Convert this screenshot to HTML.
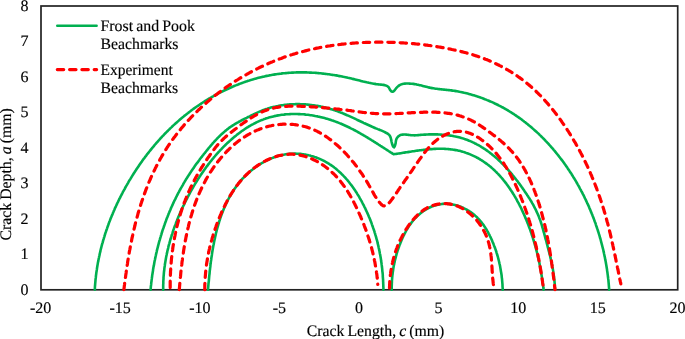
<!DOCTYPE html>
<html><head><meta charset="utf-8"><style>
html,body{margin:0;padding:0;background:#fff;}
body{width:685px;height:339px;overflow:hidden;}
svg{display:block;will-change:transform;}
text{font-family:"Liberation Serif",serif;font-size:16px;fill:#000;word-spacing:-0.9px;text-rendering:geometricPrecision;stroke:#000;stroke-width:0.15px;}
</style></head><body>
<svg width="685" height="339" viewBox="0 0 685 339">
<rect x="0" y="0" width="685" height="339" fill="#fff"/>
<rect x="41" y="6" width="636.7" height="283.8" fill="none" stroke="#222" stroke-width="1.7"/>
<path d="M94.8 289.7L94.9 288.5L94.9 287.3L95.0 286.1L95.1 284.9L95.2 283.7L95.3 282.5L95.4 281.3L95.5 280.1L95.6 278.9L95.8 277.7L95.9 276.5L96.0 275.3L96.2 274.1L96.3 272.9L96.5 271.7L96.7 270.6L96.9 269.4L97.0 268.2L97.2 267.0L97.4 265.8L97.6 264.6L97.8 263.4L98.0 262.2L98.3 261.1L98.5 259.9L98.7 258.7L99.0 257.5L99.2 256.4L99.5 255.2L99.7 254.0L100.0 252.8L100.3 251.7L100.5 250.5L100.8 249.3L101.1 248.2L101.4 247.0L101.7 245.8L102.0 244.7L102.3 243.5L102.7 242.3L103.0 241.2L103.3 240.0L103.7 238.9L104.0 237.7L104.4 236.6L104.7 235.4L105.1 234.3L105.4 233.1L105.8 232.0L106.2 230.8L106.6 229.7L107.0 228.6L107.4 227.4L107.8 226.3L108.2 225.2L108.6 224.0L109.0 222.9L109.4 221.8L109.9 220.7L110.3 219.5L110.7 218.4L111.2 217.3L111.6 216.2L112.1 215.1L112.6 214.0L113.0 212.9L113.5 211.8L114.0 210.6L114.5 209.5L114.9 208.4L115.4 207.3L115.9 206.3L116.4 205.2L116.9 204.1L117.4 203.0L118.0 201.9L118.5 200.8L119.0 199.7L119.5 198.7L120.1 197.6L120.6 196.5L121.2 195.4L121.7 194.4L122.3 193.3L122.8 192.2L123.4 191.2L124.0 190.1L124.6 189.1L125.1 188.0L125.7 187.0L126.3 185.9L126.9 184.9L127.5 183.8L128.1 182.8L128.7 181.7L129.3 180.7L129.9 179.7L130.6 178.6L131.2 177.6L131.8 176.6L132.4 175.6L133.1 174.5L133.7 173.5L134.4 172.5L135.0 171.5L135.7 170.5L136.3 169.5L137.0 168.5L137.7 167.5L138.4 166.5L139.0 165.5L139.7 164.5L140.4 163.5L141.1 162.5L141.8 161.6L142.5 160.6L143.2 159.6L143.9 158.6L144.6 157.7L145.3 156.7L146.1 155.8L146.8 154.8L147.5 153.8L148.3 152.9L149.0 151.9L149.8 151.0L150.5 150.1L151.3 149.1L152.0 148.2L152.8 147.3L153.6 146.4L154.3 145.4L155.1 144.5L155.9 143.6L156.7 142.7L157.5 141.8L158.3 140.9L159.1 140.0L159.9 139.1L160.7 138.2L161.5 137.3L162.3 136.4L163.2 135.6L164.0 134.7L164.8 133.8L165.7 133.0L166.5 132.1L167.4 131.3L168.2 130.4L169.1 129.6L169.9 128.7L170.8 127.9L171.7 127.1L172.5 126.2L173.4 125.4L174.3 124.6L175.2 123.8L176.1 123.0L177.0 122.2L177.9 121.4L178.8 120.6L179.7 119.8L180.6 119.0L181.5 118.2L182.4 117.5L183.4 116.7L184.3 115.9L185.2 115.2L186.2 114.4L187.1 113.7L188.1 113.0L189.0 112.2L190.0 111.5L190.9 110.8L191.9 110.0L192.9 109.3L193.8 108.6L194.8 107.9L195.8 107.2L196.8 106.5L197.8 105.9L198.8 105.2L199.8 104.5L200.8 103.8L201.8 103.2L202.8 102.5L203.8 101.9L204.8 101.2L205.8 100.6L206.9 100.0L207.9 99.3L208.9 98.7L210.0 98.1L211.0 97.5L212.0 96.9L213.1 96.3L214.1 95.7L215.2 95.2L216.2 94.6L217.3 94.0L218.4 93.4L219.4 92.9L220.5 92.3L221.6 91.8L222.7 91.3L223.7 90.7L224.8 90.2L225.9 89.7L227.0 89.2L228.1 88.7L229.2 88.2L230.3 87.7L231.4 87.2L232.5 86.7L233.6 86.3L234.7 85.8L235.8 85.4L236.9 84.9L238.1 84.5L239.2 84.0L240.3 83.6L241.4 83.2L242.6 82.8L243.7 82.4L244.8 82.0L246.0 81.6L247.1 81.2L248.2 80.8L249.4 80.5L250.5 80.1L251.7 79.8L252.8 79.4L254.0 79.1L255.1 78.7L256.3 78.4L257.5 78.1L258.6 77.8L259.8 77.5L261.0 77.2L262.1 76.9L263.3 76.7L264.5 76.4L265.7 76.1L266.8 75.9L268.0 75.7L269.2 75.4L270.4 75.2L271.6 75.0L272.7 74.8L273.9 74.6L275.1 74.4L276.3 74.2L277.5 74.0L278.7 73.9L279.9 73.7L281.1 73.6L282.3 73.4L283.5 73.3L284.7 73.2L285.9 73.1L287.1 73.0L288.3 72.9L289.5 72.8L290.7 72.7L291.9 72.6L293.1 72.6L294.3 72.5L295.5 72.5L296.7 72.4L297.9 72.4L299.1 72.4L300.3 72.4L301.5 72.4L302.7 72.4L303.9 72.4L305.1 72.4L306.3 72.4L307.5 72.5L308.7 72.5L309.9 72.6L311.1 72.6L312.3 72.7L313.5 72.8L314.7 72.8L315.9 72.9L317.1 73.0L318.3 73.1L319.5 73.2L320.7 73.3L321.9 73.5L323.1 73.6L324.3 73.7L325.5 73.9L326.7 74.0L327.8 74.2L329.0 74.3L330.2 74.5L331.4 74.7L332.6 74.9L333.8 75.0L335.0 75.2L336.2 75.4L337.4 75.6L338.5 75.9L339.7 76.1L340.9 76.3L342.1 76.5L343.3 76.8L344.4 77.0L345.6 77.2L346.8 77.5L348.0 77.8L349.1 78.0L350.3 78.3L351.5 78.6L352.7 78.9L353.8 79.1L355.0 79.4L356.2 79.7L357.3 80.0L358.5 80.3L359.7 80.6L360.8 80.9L362.0 81.2L363.2 81.5L364.3 81.7L365.5 82.0L366.7 82.3L367.8 82.5L369.0 82.8L370.2 83.0L371.4 83.3L372.6 83.5L373.7 83.7L374.9 83.9L376.1 84.1L377.3 84.2L378.5 84.4L379.7 84.5L380.9 84.6L382.1 84.7L383.3 84.9L384.5 85.1L385.6 85.4L386.8 85.9L387.8 86.5L388.7 87.3L389.3 88.3L389.8 89.4L390.5 90.4L391.3 91.3L392.4 91.8L393.5 91.5L394.3 90.6L395.0 89.7L395.8 88.7L396.5 87.8L397.4 86.9L398.3 86.1L399.2 85.4L400.3 84.8L401.4 84.4L402.5 84.0L403.7 83.8L404.9 83.6L406.1 83.5L407.3 83.5L408.5 83.5L409.7 83.6L410.9 83.7L412.1 83.8L413.3 83.9L414.5 84.1L415.7 84.3L416.9 84.6L418.0 84.8L419.2 85.1L420.4 85.3L421.6 85.6L422.7 85.9L423.9 86.2L425.1 86.5L426.2 86.8L427.4 87.1L428.6 87.4L429.7 87.6L430.9 87.9L432.1 88.1L433.3 88.3L434.5 88.5L435.7 88.7L436.8 88.8L438.0 89.0L439.2 89.1L440.4 89.3L441.6 89.4L442.8 89.5L444.0 89.6L445.2 89.8L446.4 89.9L447.6 90.0L448.8 90.1L450.0 90.3L451.2 90.4L452.4 90.6L453.6 90.8L454.8 90.9L455.9 91.1L457.1 91.3L458.3 91.5L459.5 91.8L460.7 92.0L461.9 92.2L463.0 92.5L464.2 92.8L465.4 93.0L466.5 93.3L467.7 93.6L468.9 93.9L470.0 94.2L471.2 94.6L472.3 94.9L473.5 95.2L474.7 95.6L475.8 95.9L476.9 96.3L478.1 96.7L479.2 97.1L480.4 97.5L481.5 97.9L482.6 98.3L483.7 98.7L484.9 99.2L486.0 99.6L487.1 100.1L488.2 100.5L489.3 101.0L490.4 101.5L491.5 101.9L492.6 102.4L493.7 102.9L494.8 103.5L495.9 104.0L497.0 104.5L498.0 105.0L499.1 105.6L500.2 106.1L501.2 106.7L502.3 107.3L503.4 107.8L504.4 108.4L505.5 109.0L506.5 109.6L507.5 110.2L508.6 110.9L509.6 111.5L510.6 112.1L511.6 112.7L512.6 113.4L513.7 114.0L514.7 114.7L515.7 115.4L516.7 116.1L517.6 116.7L518.6 117.4L519.6 118.1L520.6 118.8L521.6 119.5L522.5 120.3L523.5 121.0L524.4 121.7L525.4 122.4L526.3 123.2L527.3 123.9L528.2 124.7L529.1 125.5L530.1 126.2L531.0 127.0L531.9 127.8L532.8 128.6L533.7 129.4L534.6 130.2L535.5 131.0L536.4 131.8L537.3 132.6L538.2 133.4L539.0 134.2L539.9 135.1L540.8 135.9L541.6 136.8L542.5 137.6L543.3 138.5L544.2 139.3L545.0 140.2L545.8 141.1L546.6 141.9L547.5 142.8L548.3 143.7L549.1 144.6L549.9 145.5L550.7 146.4L551.5 147.3L552.3 148.2L553.1 149.1L553.8 150.0L554.6 150.9L555.4 151.9L556.1 152.8L556.9 153.7L557.7 154.7L558.4 155.6L559.1 156.6L559.9 157.5L560.6 158.5L561.3 159.4L562.1 160.4L562.8 161.3L563.5 162.3L564.2 163.3L564.9 164.3L565.6 165.2L566.3 166.2L567.0 167.2L567.6 168.2L568.3 169.2L569.0 170.2L569.6 171.2L570.3 172.2L571.0 173.2L571.6 174.2L572.2 175.3L572.9 176.3L573.5 177.3L574.1 178.3L574.8 179.4L575.4 180.4L576.0 181.4L576.6 182.5L577.2 183.5L577.8 184.6L578.4 185.6L579.0 186.7L579.5 187.7L580.1 188.8L580.7 189.8L581.2 190.9L581.8 192.0L582.4 193.0L582.9 194.1L583.5 195.2L584.0 196.2L584.5 197.3L585.0 198.4L585.6 199.5L586.1 200.6L586.6 201.7L587.1 202.8L587.6 203.8L588.1 204.9L588.6 206.0L589.1 207.1L589.5 208.2L590.0 209.4L590.5 210.5L590.9 211.6L591.4 212.7L591.8 213.8L592.3 214.9L592.7 216.0L593.2 217.2L593.6 218.3L594.0 219.4L594.4 220.5L594.8 221.7L595.3 222.8L595.7 223.9L596.0 225.1L596.4 226.2L596.8 227.3L597.2 228.5L597.6 229.6L597.9 230.8L598.3 231.9L598.7 233.1L599.0 234.2L599.4 235.4L599.7 236.5L600.0 237.7L600.4 238.8L600.7 240.0L601.0 241.2L601.3 242.3L601.6 243.5L601.9 244.6L602.2 245.8L602.5 247.0L602.8 248.1L603.1 249.3L603.4 250.5L603.6 251.7L603.9 252.8L604.1 254.0L604.4 255.2L604.6 256.4L604.9 257.5L605.1 258.7L605.3 259.9L605.6 261.1L605.8 262.3L606.0 263.4L606.2 264.6L606.4 265.8L606.6 267.0L606.8 268.2L607.0 269.4L607.1 270.6L607.3 271.8L607.5 273.0L607.6 274.1L607.8 275.3L607.9 276.5L608.1 277.7L608.2 278.9L608.4 280.1L608.5 281.3L608.6 282.5L608.7 283.7L608.8 284.9L608.9 286.1L609.0 287.3L609.1 288.5L609.2 289.7" stroke="#00B050" stroke-width="2.6" fill="none" stroke-linecap="round" stroke-linejoin="round"/>
<path d="M150.6 289.7L150.7 288.5L150.8 287.3L150.9 286.1L151.1 284.9L151.2 283.7L151.3 282.5L151.5 281.3L151.6 280.1L151.8 278.9L151.9 277.7L152.1 276.6L152.2 275.4L152.4 274.2L152.6 273.0L152.8 271.8L153.0 270.6L153.1 269.4L153.3 268.2L153.5 267.0L153.8 265.9L154.0 264.7L154.2 263.5L154.4 262.3L154.6 261.1L154.9 260.0L155.1 258.8L155.4 257.6L155.6 256.4L155.9 255.2L156.1 254.1L156.4 252.9L156.7 251.7L156.9 250.6L157.2 249.4L157.5 248.2L157.8 247.1L158.1 245.9L158.4 244.7L158.7 243.6L159.0 242.4L159.3 241.2L159.7 240.1L160.0 238.9L160.3 237.8L160.7 236.6L161.0 235.5L161.4 234.3L161.7 233.2L162.1 232.0L162.4 230.9L162.8 229.7L163.2 228.6L163.6 227.5L164.0 226.3L164.4 225.2L164.8 224.0L165.2 222.9L165.6 221.8L166.0 220.7L166.4 219.5L166.8 218.4L167.3 217.3L167.7 216.2L168.2 215.0L168.6 213.9L169.1 212.8L169.5 211.7L170.0 210.6L170.5 209.5L170.9 208.4L171.4 207.3L171.9 206.2L172.4 205.1L172.9 204.0L173.4 202.9L173.9 201.8L174.4 200.7L175.0 199.6L175.5 198.6L176.0 197.5L176.6 196.4L177.1 195.3L177.6 194.3L178.2 193.2L178.8 192.1L179.3 191.1L179.9 190.0L180.5 189.0L181.1 187.9L181.7 186.9L182.3 185.8L182.9 184.8L183.5 183.7L184.1 182.7L184.7 181.7L185.3 180.6L185.9 179.6L186.6 178.6L187.2 177.6L187.9 176.6L188.5 175.5L189.2 174.5L189.8 173.5L190.5 172.5L191.1 171.5L191.8 170.5L192.5 169.5L193.2 168.5L193.9 167.6L194.5 166.6L195.2 165.6L195.9 164.6L196.6 163.6L197.4 162.7L198.1 161.7L198.8 160.7L199.5 159.8L200.2 158.8L201.0 157.8L201.7 156.9L202.4 155.9L203.2 155.0L203.9 154.0L204.7 153.1L205.4 152.2L206.2 151.2L206.9 150.3L207.7 149.4L208.4 148.4L209.2 147.5L210.0 146.6L210.8 145.7L211.5 144.8L212.3 143.9L213.1 142.9L213.9 142.1L214.7 141.2L215.5 140.3L216.4 139.4L217.2 138.5L218.0 137.7L218.9 136.8L219.7 136.0L220.6 135.1L221.5 134.3L222.4 133.5L223.3 132.7L224.2 131.9L225.1 131.1L226.0 130.4L226.9 129.6L227.9 128.9L228.9 128.1L229.8 127.4L230.8 126.7L231.8 126.1L232.8 125.4L233.8 124.8L234.8 124.1L235.9 123.5L236.9 122.9L238.0 122.3L239.0 121.7L240.1 121.2L241.1 120.6L242.2 120.0L243.3 119.5L244.3 118.9L245.4 118.4L246.5 117.9L247.6 117.3L248.7 116.8L249.7 116.3L250.8 115.7L251.9 115.2L253.0 114.7L254.0 114.1L255.1 113.6L256.2 113.1L257.3 112.6L258.4 112.1L259.5 111.6L260.6 111.1L261.7 110.7L262.8 110.2L264.0 109.8L265.1 109.4L266.2 109.0L267.4 108.7L268.5 108.3L269.7 107.9L270.8 107.6L272.0 107.3L273.2 107.0L274.3 106.7L275.5 106.5L276.7 106.2L277.9 106.0L279.0 105.7L280.2 105.5L281.4 105.3L282.6 105.2L283.8 105.0L285.0 104.8L286.2 104.7L287.4 104.6L288.6 104.5L289.8 104.4L291.0 104.3L292.2 104.2L293.4 104.2L294.6 104.2L295.8 104.1L297.0 104.1L298.2 104.1L299.4 104.1L300.6 104.2L301.8 104.2L303.0 104.3L304.2 104.3L305.4 104.4L306.6 104.5L307.8 104.6L309.0 104.7L310.2 104.9L311.4 105.0L312.6 105.2L313.8 105.3L314.9 105.5L316.1 105.7L317.3 105.9L318.5 106.1L319.7 106.3L320.9 106.6L322.0 106.8L323.2 107.1L324.4 107.4L325.6 107.6L326.7 107.9L327.9 108.3L329.0 108.6L330.2 108.9L331.3 109.2L332.5 109.6L333.6 110.0L334.8 110.3L335.9 110.7L337.1 111.1L338.2 111.5L339.3 112.0L340.4 112.4L341.6 112.8L342.7 113.3L343.8 113.7L344.9 114.2L346.0 114.7L347.1 115.2L348.2 115.6L349.3 116.1L350.4 116.6L351.5 117.1L352.6 117.6L353.7 118.1L354.8 118.6L355.9 119.2L356.9 119.7L358.0 120.2L359.1 120.7L360.2 121.2L361.3 121.7L362.4 122.2L363.5 122.8L364.5 123.3L365.6 123.8L366.7 124.3L367.8 124.8L368.9 125.3L370.0 125.8L371.1 126.3L372.2 126.8L373.3 127.2L374.4 127.7L375.5 128.2L376.6 128.6L377.8 129.1L378.9 129.5L380.0 130.0L381.1 130.4L382.2 130.9L383.3 131.4L384.4 131.9L385.5 132.5L386.5 133.0L387.6 133.6L388.5 134.3L389.4 135.2L390.1 136.2L390.5 137.3L390.9 138.4L391.1 139.6L391.4 140.8L391.6 142.0L391.9 143.1L392.2 144.3L392.6 145.4L393.1 146.5L394.0 147.3L394.7 146.4L395.1 145.3L395.4 144.1L395.7 142.9L395.8 141.7L396.0 140.5L396.3 139.4L396.8 138.3L397.5 137.3L398.3 136.4L399.3 135.7L400.3 135.1L401.5 134.8L402.7 134.6L403.9 134.5L405.1 134.5L406.3 134.6L407.5 134.7L408.7 134.9L409.8 135.0L411.0 135.2L412.2 135.3L413.4 135.3L414.6 135.4L415.8 135.3L417.0 135.2L418.2 135.1L419.4 135.0L420.6 134.9L421.8 134.8L423.0 134.7L424.2 134.6L425.4 134.6L426.6 134.5L427.8 134.5L429.0 134.4L430.2 134.4L431.4 134.4L432.6 134.4L433.8 134.4L435.0 134.4L436.2 134.4L437.5 134.4L438.7 134.5L439.9 134.5L441.1 134.6L442.3 134.7L443.5 134.8L444.7 134.9L445.8 135.0L447.0 135.1L448.2 135.3L449.4 135.5L450.6 135.6L451.8 135.8L453.0 136.0L454.2 136.3L455.4 136.5L456.5 136.7L457.7 137.0L458.9 137.3L460.0 137.6L461.2 137.9L462.3 138.3L463.5 138.6L464.6 139.0L465.8 139.4L466.9 139.8L468.0 140.2L469.1 140.7L470.2 141.1L471.4 141.6L472.4 142.1L473.5 142.6L474.6 143.2L475.7 143.7L476.8 144.3L477.8 144.8L478.9 145.4L479.9 146.0L480.9 146.6L482.0 147.3L483.0 147.9L484.0 148.6L485.0 149.2L486.0 149.9L487.0 150.6L487.9 151.3L488.9 152.0L489.9 152.7L490.8 153.5L491.8 154.2L492.7 155.0L493.6 155.7L494.6 156.5L495.5 157.3L496.4 158.1L497.3 158.9L498.2 159.7L499.0 160.5L499.9 161.3L500.8 162.2L501.6 163.0L502.5 163.9L503.3 164.7L504.2 165.6L505.0 166.5L505.8 167.3L506.6 168.2L507.4 169.1L508.3 170.0L509.0 170.9L509.8 171.8L510.6 172.7L511.4 173.6L512.2 174.6L512.9 175.5L513.7 176.4L514.4 177.4L515.2 178.3L515.9 179.2L516.7 180.2L517.4 181.1L518.1 182.1L518.9 183.1L519.6 184.0L520.3 185.0L521.0 186.0L521.7 187.0L522.4 187.9L523.1 188.9L523.8 189.9L524.4 190.9L525.1 191.9L525.8 192.9L526.5 193.9L527.1 194.9L527.8 195.9L528.4 196.9L529.1 197.9L529.7 198.9L530.3 200.0L531.0 201.0L531.6 202.0L532.2 203.1L532.8 204.1L533.4 205.2L533.9 206.2L534.5 207.3L535.0 208.4L535.6 209.4L536.1 210.5L536.6 211.6L537.1 212.7L537.6 213.8L538.1 214.9L538.6 216.0L539.0 217.1L539.4 218.2L539.9 219.4L540.3 220.5L540.7 221.6L541.0 222.8L541.4 223.9L541.8 225.1L542.1 226.2L542.4 227.4L542.8 228.5L543.1 229.7L543.4 230.9L543.7 232.0L544.1 233.2L544.4 234.3L544.7 235.5L545.0 236.7L545.3 237.8L545.6 239.0L546.0 240.1L546.3 241.3L546.6 242.5L546.9 243.6L547.2 244.8L547.5 245.9L547.8 247.1L548.1 248.3L548.4 249.4L548.7 250.6L549.0 251.8L549.3 252.9L549.6 254.1L549.9 255.3L550.2 256.4L550.4 257.6L550.7 258.8L551.0 260.0L551.2 261.1L551.5 262.3L551.7 263.5L552.0 264.7L552.2 265.8L552.4 267.0L552.7 268.2L552.9 269.4L553.1 270.6L553.3 271.8L553.4 272.9L553.6 274.1L553.8 275.3L553.9 276.5L554.1 277.7L554.2 278.9L554.4 280.1L554.5 281.3L554.6 282.5L554.7 283.7L554.8 284.9L554.8 286.1L554.9 287.3L555.0 288.5L555.0 289.7" stroke="#00B050" stroke-width="2.6" fill="none" stroke-linecap="round" stroke-linejoin="round"/>
<path d="M163.2 289.7L163.2 288.5L163.2 287.3L163.2 286.1L163.2 284.9L163.3 283.7L163.3 282.5L163.3 281.3L163.4 280.1L163.5 278.9L163.5 277.7L163.6 276.5L163.7 275.3L163.8 274.1L163.9 272.9L164.0 271.7L164.2 270.5L164.3 269.3L164.4 268.1L164.6 266.9L164.8 265.7L164.9 264.5L165.1 263.3L165.3 262.1L165.5 260.9L165.7 259.7L165.9 258.6L166.1 257.4L166.3 256.2L166.6 255.0L166.8 253.8L167.1 252.7L167.3 251.5L167.6 250.3L167.9 249.1L168.2 248.0L168.4 246.8L168.7 245.6L169.0 244.5L169.4 243.3L169.7 242.1L170.0 241.0L170.3 239.8L170.7 238.7L171.0 237.5L171.4 236.4L171.7 235.2L172.1 234.1L172.5 232.9L172.8 231.8L173.2 230.6L173.6 229.5L174.0 228.4L174.4 227.2L174.8 226.1L175.3 225.0L175.7 223.9L176.1 222.7L176.5 221.6L177.0 220.5L177.4 219.4L177.9 218.3L178.3 217.1L178.8 216.0L179.3 214.9L179.8 213.8L180.2 212.7L180.7 211.6L181.2 210.5L181.7 209.4L182.2 208.3L182.7 207.2L183.2 206.1L183.8 205.1L184.3 204.0L184.8 202.9L185.3 201.8L185.9 200.7L186.4 199.7L187.0 198.6L187.5 197.5L188.1 196.4L188.6 195.4L189.2 194.3L189.8 193.3L190.3 192.2L190.9 191.1L191.5 190.1L192.1 189.0L192.7 188.0L193.3 187.0L193.9 185.9L194.5 184.9L195.1 183.8L195.8 182.8L196.4 181.8L197.0 180.8L197.7 179.7L198.3 178.7L199.0 177.7L199.6 176.7L200.3 175.7L200.9 174.7L201.6 173.7L202.3 172.7L203.0 171.7L203.7 170.7L204.4 169.7L205.1 168.8L205.8 167.8L206.5 166.8L207.2 165.9L207.9 164.9L208.7 163.9L209.4 163.0L210.1 162.0L210.9 161.1L211.6 160.2L212.4 159.2L213.2 158.3L213.9 157.4L214.7 156.5L215.5 155.5L216.3 154.6L217.1 153.7L217.9 152.8L218.7 151.9L219.5 151.1L220.3 150.2L221.2 149.3L222.0 148.4L222.8 147.6L223.7 146.7L224.5 145.9L225.4 145.0L226.2 144.2L227.1 143.3L228.0 142.5L228.9 141.7L229.8 140.9L230.7 140.1L231.6 139.3L232.5 138.5L233.4 137.7L234.3 136.9L235.2 136.2L236.2 135.4L237.1 134.6L238.1 133.9L239.0 133.2L240.0 132.5L240.9 131.7L241.9 131.0L242.9 130.4L243.9 129.7L244.9 129.0L245.9 128.3L246.9 127.7L247.9 127.1L249.0 126.4L250.0 125.8L251.1 125.2L252.1 124.6L253.2 124.1L254.2 123.5L255.3 123.0L256.4 122.4L257.5 121.9L258.6 121.4L259.7 120.9L260.8 120.4L261.9 120.0L263.0 119.6L264.1 119.1L265.3 118.7L266.4 118.3L267.6 118.0L268.7 117.6L269.9 117.3L271.0 117.0L272.2 116.7L273.4 116.4L274.5 116.1L275.7 115.9L276.9 115.6L278.1 115.4L279.3 115.2L280.5 115.0L281.6 114.8L282.8 114.7L284.0 114.6L285.2 114.4L286.4 114.3L287.6 114.2L288.8 114.2L290.0 114.1L291.2 114.0L292.4 114.0L293.6 114.0L294.9 114.0L296.1 114.0L297.3 114.0L298.5 114.1L299.7 114.1L300.9 114.2L302.1 114.3L303.3 114.3L304.5 114.4L305.7 114.6L306.9 114.7L308.1 114.8L309.3 115.0L310.4 115.2L311.6 115.3L312.8 115.5L314.0 115.7L315.2 116.0L316.4 116.2L317.6 116.4L318.7 116.7L319.9 116.9L321.1 117.2L322.3 117.5L323.4 117.8L324.6 118.1L325.7 118.4L326.9 118.7L328.1 119.1L329.2 119.4L330.4 119.8L331.5 120.2L332.6 120.6L333.8 121.0L334.9 121.4L336.0 121.8L337.2 122.2L338.3 122.6L339.4 123.1L340.5 123.5L341.6 124.0L342.7 124.5L343.8 125.0L344.9 125.5L346.0 126.0L347.1 126.5L348.2 127.0L349.3 127.5L350.4 128.1L351.4 128.6L352.5 129.1L353.6 129.7L354.6 130.3L355.7 130.8L356.8 131.4L357.8 132.0L358.9 132.6L359.9 133.2L361.0 133.8L362.0 134.4L363.1 135.0L364.1 135.6L365.1 136.2L366.2 136.8L367.2 137.4L368.2 138.1L369.2 138.7L370.3 139.3L371.3 140.0L372.3 140.6L373.3 141.2L374.3 141.9L375.4 142.5L376.4 143.2L377.4 143.8L378.4 144.5L379.4 145.1L380.4 145.8L381.4 146.4L382.5 147.1L383.5 147.7L384.5 148.4L385.5 149.0L386.5 149.7L387.5 150.3L388.5 151.0L389.5 151.6L390.6 152.3L391.6 152.9L392.6 153.6L393.6 154.2L394.8 154.0L396.0 153.9L397.2 153.7L398.4 153.5L399.6 153.4L400.8 153.2L402.0 153.0L403.1 152.8L404.3 152.6L405.5 152.4L406.7 152.3L407.9 152.1L409.1 151.9L410.3 151.7L411.5 151.5L412.7 151.3L413.9 151.2L415.0 151.0L416.2 150.8L417.4 150.6L418.6 150.5L419.8 150.3L421.0 150.2L422.2 150.0L423.4 149.9L424.6 149.7L425.8 149.6L427.0 149.5L428.2 149.4L429.4 149.3L430.6 149.2L431.8 149.1L433.0 149.0L434.2 148.9L435.4 148.9L436.6 148.8L437.8 148.8L439.0 148.8L440.2 148.8L441.4 148.8L442.6 148.8L443.8 148.8L445.0 148.9L446.2 149.0L447.4 149.0L448.6 149.1L449.8 149.2L451.0 149.4L452.2 149.5L453.4 149.7L454.6 149.9L455.8 150.1L457.0 150.3L458.1 150.6L459.3 150.8L460.5 151.1L461.6 151.4L462.8 151.8L464.0 152.1L465.1 152.5L466.2 152.9L467.4 153.3L468.5 153.7L469.6 154.1L470.7 154.6L471.8 155.1L472.9 155.6L474.0 156.1L475.1 156.6L476.2 157.2L477.2 157.8L478.3 158.3L479.3 158.9L480.4 159.6L481.4 160.2L482.4 160.8L483.4 161.5L484.4 162.2L485.4 162.9L486.4 163.6L487.3 164.3L488.3 165.0L489.2 165.8L490.2 166.5L491.1 167.3L492.0 168.1L492.9 168.9L493.8 169.7L494.7 170.5L495.5 171.4L496.4 172.2L497.2 173.1L498.1 173.9L498.9 174.8L499.7 175.7L500.5 176.6L501.3 177.5L502.1 178.4L502.9 179.3L503.6 180.3L504.4 181.2L505.1 182.1L505.9 183.1L506.6 184.1L507.3 185.0L508.0 186.0L508.7 187.0L509.4 188.0L510.1 189.0L510.7 190.0L511.4 191.0L512.1 192.0L512.7 193.0L513.3 194.0L514.0 195.0L514.6 196.1L515.2 197.1L515.8 198.2L516.4 199.2L517.0 200.3L517.5 201.3L518.1 202.4L518.7 203.4L519.2 204.5L519.8 205.6L520.3 206.7L520.9 207.7L521.4 208.8L521.9 209.9L522.4 211.0L522.9 212.1L523.4 213.2L523.9 214.3L524.4 215.4L524.9 216.5L525.3 217.6L525.8 218.7L526.3 219.8L526.7 220.9L527.2 222.0L527.6 223.2L528.1 224.3L528.5 225.4L528.9 226.5L529.3 227.7L529.8 228.8L530.2 229.9L530.6 231.1L531.0 232.2L531.4 233.3L531.7 234.5L532.1 235.6L532.5 236.8L532.9 237.9L533.2 239.1L533.6 240.2L533.9 241.4L534.3 242.5L534.6 243.7L534.9 244.8L535.3 246.0L535.6 247.2L535.9 248.3L536.2 249.5L536.5 250.6L536.8 251.8L537.1 253.0L537.4 254.1L537.7 255.3L537.9 256.5L538.2 257.7L538.5 258.8L538.7 260.0L539.0 261.2L539.2 262.4L539.5 263.5L539.7 264.7L539.9 265.9L540.2 267.1L540.4 268.3L540.6 269.5L540.8 270.6L541.0 271.8L541.2 273.0L541.4 274.2L541.6 275.4L541.8 276.6L542.0 277.8L542.2 279.0L542.3 280.2L542.5 281.3L542.7 282.5L542.8 283.7L543.0 284.9L543.2 286.1L543.3 287.3L543.5 288.5L543.6 289.7" stroke="#00B050" stroke-width="2.6" fill="none" stroke-linecap="round" stroke-linejoin="round"/>
<path d="M208.0 289.7L208.1 288.5L208.2 287.3L208.3 286.1L208.4 284.9L208.5 283.7L208.6 282.5L208.8 281.3L208.9 280.1L209.0 278.9L209.1 277.7L209.2 276.5L209.3 275.3L209.5 274.1L209.6 272.9L209.7 271.7L209.8 270.5L210.0 269.3L210.1 268.1L210.3 266.9L210.4 265.7L210.5 264.5L210.7 263.3L210.8 262.1L211.0 260.9L211.2 259.7L211.3 258.5L211.5 257.3L211.7 256.1L211.9 254.9L212.0 253.7L212.2 252.5L212.4 251.3L212.6 250.1L212.8 248.9L213.0 247.7L213.2 246.5L213.4 245.4L213.7 244.2L213.9 243.0L214.1 241.8L214.4 240.6L214.6 239.4L214.9 238.3L215.1 237.1L215.4 235.9L215.7 234.7L215.9 233.5L216.2 232.4L216.5 231.2L216.8 230.0L217.1 228.9L217.4 227.7L217.8 226.5L218.1 225.4L218.4 224.2L218.8 223.1L219.1 221.9L219.5 220.7L219.9 219.6L220.2 218.4L220.6 217.3L221.0 216.2L221.4 215.0L221.8 213.9L222.3 212.8L222.7 211.6L223.2 210.5L223.6 209.4L224.1 208.3L224.5 207.2L225.0 206.1L225.5 205.0L226.0 203.9L226.6 202.8L227.1 201.7L227.6 200.6L228.2 199.5L228.7 198.5L229.3 197.4L229.9 196.3L230.5 195.3L231.1 194.3L231.7 193.2L232.4 192.2L233.0 191.2L233.7 190.2L234.3 189.2L235.0 188.2L235.7 187.2L236.4 186.2L237.1 185.2L237.9 184.3L238.6 183.3L239.4 182.4L240.2 181.4L240.9 180.5L241.7 179.6L242.5 178.7L243.4 177.8L244.2 177.0L245.1 176.1L245.9 175.3L246.8 174.4L247.7 173.6L248.6 172.8L249.5 172.0L250.4 171.2L251.3 170.4L252.3 169.7L253.2 168.9L254.2 168.2L255.1 167.5L256.1 166.8L257.1 166.1L258.1 165.4L259.1 164.7L260.1 164.1L261.2 163.5L262.2 162.9L263.3 162.3L264.3 161.7L265.4 161.1L266.5 160.6L267.6 160.0L268.7 159.5L269.8 159.0L270.9 158.6L272.0 158.1L273.1 157.7L274.2 157.3L275.4 156.9L276.5 156.5L277.7 156.1L278.9 155.8L280.0 155.5L281.2 155.2L282.4 155.0L283.6 154.7L284.7 154.5L285.9 154.3L287.1 154.1L288.3 154.0L289.5 153.9L290.7 153.8L291.9 153.7L293.1 153.7L294.4 153.6L295.6 153.6L296.8 153.7L298.0 153.7L299.2 153.8L300.4 153.9L301.6 154.0L302.8 154.2L304.0 154.4L305.2 154.5L306.4 154.8L307.5 155.0L308.7 155.3L309.9 155.5L311.1 155.9L312.2 156.2L313.4 156.5L314.5 156.9L315.7 157.3L316.8 157.7L317.9 158.1L319.1 158.6L320.2 159.1L321.3 159.6L322.4 160.1L323.4 160.6L324.5 161.2L325.6 161.8L326.6 162.4L327.7 163.0L328.7 163.6L329.7 164.3L330.7 164.9L331.7 165.6L332.7 166.3L333.7 167.1L334.6 167.8L335.6 168.5L336.5 169.3L337.4 170.1L338.3 170.9L339.2 171.7L340.1 172.5L341.0 173.3L341.8 174.2L342.7 175.0L343.5 175.9L344.4 176.8L345.2 177.7L346.0 178.6L346.8 179.5L347.6 180.4L348.3 181.3L349.1 182.3L349.8 183.2L350.6 184.2L351.3 185.1L352.0 186.1L352.7 187.1L353.4 188.1L354.1 189.1L354.8 190.1L355.5 191.1L356.1 192.1L356.8 193.1L357.4 194.1L358.1 195.2L358.7 196.2L359.3 197.2L359.9 198.3L360.5 199.3L361.1 200.4L361.7 201.4L362.2 202.5L362.8 203.6L363.3 204.7L363.9 205.7L364.4 206.8L365.0 207.9L365.5 209.0L366.0 210.1L366.5 211.2L367.0 212.3L367.5 213.4L368.0 214.5L368.5 215.6L368.9 216.7L369.4 217.8L369.9 218.9L370.3 220.1L370.8 221.2L371.2 222.3L371.6 223.4L372.0 224.6L372.4 225.7L372.8 226.8L373.2 228.0L373.6 229.1L374.0 230.3L374.4 231.4L374.7 232.6L375.1 233.7L375.4 234.9L375.8 236.1L376.1 237.2L376.4 238.4L376.7 239.5L377.1 240.7L377.4 241.9L377.6 243.1L377.9 244.2L378.2 245.4L378.5 246.6L378.7 247.8L379.0 248.9L379.2 250.1L379.5 251.3L379.7 252.5L379.9 253.7L380.2 254.9L380.4 256.1L380.6 257.2L380.8 258.4L381.0 259.6L381.1 260.8L381.3 262.0L381.5 263.2L381.6 264.4L381.8 265.6L381.9 266.8L382.1 268.0L382.2 269.2L382.3 270.4L382.4 271.6L382.6 272.8L382.7 274.0L382.8 275.2L382.8 276.4L382.9 277.6L383.0 278.8L383.1 280.0L383.1 281.2L383.2 282.5L383.2 283.7L383.3 284.9L383.3 286.1L383.4 287.3L383.4 288.5L383.4 289.7" stroke="#00B050" stroke-width="2.6" fill="none" stroke-linecap="round" stroke-linejoin="round"/>
<path d="M391.7 289.7L391.7 288.5L391.7 287.3L391.7 286.1L391.8 284.9L391.8 283.7L391.9 282.4L391.9 281.2L392.0 280.0L392.1 278.8L392.2 277.6L392.3 276.4L392.4 275.2L392.6 274.0L392.7 272.8L392.9 271.6L393.1 270.4L393.2 269.2L393.4 268.0L393.6 266.8L393.8 265.7L394.1 264.5L394.3 263.3L394.6 262.1L394.8 260.9L395.1 259.7L395.4 258.6L395.7 257.4L396.0 256.2L396.3 255.1L396.6 253.9L397.0 252.7L397.3 251.6L397.7 250.4L398.1 249.3L398.5 248.1L398.9 247.0L399.3 245.9L399.7 244.7L400.2 243.6L400.6 242.5L401.1 241.4L401.5 240.2L402.0 239.1L402.5 238.0L403.0 236.9L403.5 235.8L404.1 234.8L404.6 233.7L405.2 232.6L405.8 231.5L406.3 230.5L406.9 229.4L407.6 228.4L408.2 227.4L408.8 226.4L409.5 225.3L410.2 224.4L410.9 223.4L411.6 222.4L412.4 221.5L413.1 220.5L413.9 219.6L414.7 218.7L415.6 217.8L416.4 217.0L417.3 216.1L418.2 215.3L419.1 214.5L420.0 213.7L420.9 213.0L421.9 212.2L422.9 211.5L423.9 210.8L424.9 210.2L425.9 209.5L427.0 208.9L428.0 208.3L429.1 207.8L430.2 207.3L431.3 206.8L432.4 206.3L433.6 205.9L434.7 205.5L435.9 205.2L437.0 204.9L438.2 204.6L439.4 204.4L440.6 204.2L441.8 204.0L443.0 203.9L444.2 203.8L445.4 203.8L446.6 203.8L447.8 203.9L449.0 204.0L450.2 204.1L451.4 204.3L452.6 204.5L453.8 204.7L455.0 205.0L456.1 205.3L457.3 205.6L458.5 206.0L459.6 206.4L460.7 206.8L461.9 207.3L463.0 207.7L464.1 208.3L465.1 208.8L466.2 209.4L467.3 210.0L468.3 210.6L469.3 211.2L470.3 211.9L471.3 212.6L472.3 213.3L473.2 214.0L474.2 214.8L475.1 215.6L476.0 216.4L476.9 217.2L477.7 218.1L478.6 219.0L479.4 219.9L480.2 220.8L480.9 221.7L481.7 222.6L482.4 223.6L483.2 224.6L483.9 225.6L484.5 226.6L485.2 227.6L485.8 228.6L486.5 229.6L487.1 230.7L487.7 231.7L488.3 232.8L488.8 233.8L489.4 234.9L489.9 236.0L490.5 237.1L491.0 238.2L491.5 239.3L492.0 240.4L492.4 241.5L492.9 242.6L493.4 243.7L493.8 244.9L494.2 246.0L494.7 247.1L495.1 248.3L495.5 249.4L495.9 250.5L496.3 251.7L496.6 252.8L497.0 254.0L497.3 255.2L497.7 256.3L498.0 257.5L498.3 258.6L498.6 259.8L498.9 261.0L499.2 262.2L499.4 263.3L499.7 264.5L500.0 265.7L500.2 266.9L500.4 268.1L500.6 269.3L500.8 270.5L501.0 271.7L501.2 272.8L501.4 274.0L501.6 275.2L501.7 276.4L501.8 277.6L502.0 278.8L502.1 280.0L502.2 281.3L502.3 282.5L502.4 283.7L502.5 284.9L502.5 286.1L502.6 287.3L502.7 288.5L502.7 289.7" stroke="#00B050" stroke-width="2.6" fill="none" stroke-linecap="round" stroke-linejoin="round"/>
<path d="M123.9 289.7L124.0 288.5L124.2 287.3L124.3 286.1L124.5 284.9L124.6 283.7L124.8 282.5L124.9 281.3L125.1 280.2L125.2 279.0L125.4 277.8L125.6 276.6L125.7 275.4L125.9 274.2L126.1 273.0L126.2 271.8L126.4 270.6L126.6 269.4L126.7 268.2L126.9 267.0L127.1 265.9L127.3 264.7L127.5 263.5L127.6 262.3L127.8 261.1L128.0 259.9L128.2 258.7L128.4 257.5L128.6 256.4L128.8 255.2L129.0 254.0L129.2 252.8L129.4 251.6L129.6 250.4L129.9 249.3L130.1 248.1L130.3 246.9L130.5 245.7L130.8 244.5L131.0 243.3L131.2 242.2L131.5 241.0L131.7 239.8L131.9 238.6L132.2 237.5L132.4 236.3L132.7 235.1L132.9 233.9L133.2 232.8L133.5 231.6L133.7 230.4L134.0 229.2L134.3 228.1L134.6 226.9L134.9 225.7L135.1 224.6L135.4 223.4L135.7 222.2L136.0 221.1L136.3 219.9L136.6 218.7L137.0 217.6L137.3 216.4L137.6 215.3L137.9 214.1L138.2 212.9L138.6 211.8L138.9 210.6L139.3 209.5L139.6 208.3L140.0 207.2L140.3 206.0L140.7 204.9L141.0 203.7L141.4 202.6L141.8 201.4L142.2 200.3L142.6 199.2L142.9 198.0L143.3 196.9L143.7 195.8L144.1 194.6L144.6 193.5L145.0 192.4L145.4 191.2L145.8 190.1L146.2 189.0L146.7 187.9L147.1 186.7L147.6 185.6L148.0 184.5L148.5 183.4L148.9 182.3L149.4 181.2L149.9 180.1L150.4 179.0L150.8 177.9L151.3 176.8L151.8 175.7L152.3 174.6L152.8 173.5L153.3 172.4L153.9 171.3L154.4 170.2L154.9 169.2L155.4 168.1L156.0 167.0L156.5 165.9L157.1 164.9L157.6 163.8L158.2 162.7L158.8 161.7L159.4 160.6L159.9 159.6L160.5 158.5L161.1 157.5L161.7 156.4L162.3 155.4L162.9 154.4L163.5 153.3L164.2 152.3L164.8 151.3L165.4 150.3L166.1 149.2L166.7 148.2L167.4 147.2L168.0 146.2L168.7 145.2L169.4 144.2L170.1 143.2L170.7 142.2L171.4 141.2L172.1 140.3L172.8 139.3L173.5 138.3L174.3 137.3L175.0 136.4L175.7 135.4L176.4 134.5L177.2 133.5L177.9 132.6L178.7 131.6L179.4 130.7L180.2 129.8L180.9 128.8L181.7 127.9L182.5 127.0L183.3 126.1L184.0 125.2L184.8 124.2L185.6 123.3L186.4 122.4L187.2 121.6L188.0 120.7L188.8 119.8L189.7 118.9L190.5 118.0L191.3 117.1L192.2 116.3L193.0 115.4L193.8 114.6L194.7 113.7L195.5 112.9L196.4 112.0L197.3 111.2L198.1 110.3L199.0 109.5L199.9 108.7L200.7 107.9L201.6 107.0L202.5 106.2L203.4 105.4L204.3 104.6L205.2 103.8L206.1 103.0L207.0 102.2L207.9 101.4L208.8 100.7L209.7 99.9L210.7 99.1L211.6 98.4L212.5 97.6L213.5 96.8L214.4 96.1L215.3 95.3L216.3 94.6L217.2 93.9L218.2 93.1L219.1 92.4L220.1 91.7L221.1 90.9L222.0 90.2L223.0 89.5L224.0 88.8L225.0 88.1L225.9 87.4L226.9 86.7L227.9 86.0L228.9 85.4L229.9 84.7L230.9 84.0L231.9 83.4L232.9 82.7L233.9 82.0L234.9 81.4L235.9 80.7L237.0 80.1L238.0 79.5L239.0 78.8L240.0 78.2L241.1 77.6L242.1 77.0L243.1 76.4L244.2 75.8L245.2 75.2L246.3 74.6L247.3 74.0L248.4 73.4L249.4 72.8L250.5 72.2L251.5 71.7L252.6 71.1L253.7 70.5L254.7 70.0L255.8 69.4L256.9 68.9L257.9 68.4L259.0 67.8L260.1 67.3L261.2 66.8L262.3 66.3L263.4 65.8L264.5 65.3L265.5 64.8L266.6 64.3L267.7 63.8L268.8 63.3L270.0 62.8L271.1 62.3L272.2 61.9L273.3 61.4L274.4 61.0L275.5 60.5L276.6 60.1L277.7 59.6L278.9 59.2L280.0 58.8L281.1 58.4L282.3 57.9L283.4 57.5L284.5 57.1L285.7 56.7L286.8 56.3L287.9 56.0L289.1 55.6L290.2 55.2L291.4 54.8L292.5 54.5L293.7 54.1L294.8 53.8L296.0 53.4L297.1 53.1L298.3 52.8L299.4 52.4L300.6 52.1L301.7 51.8L302.9 51.5L304.1 51.2L305.2 50.9L306.4 50.6L307.6 50.3L308.7 50.0L309.9 49.7L311.1 49.5L312.3 49.2L313.4 48.9L314.6 48.7L315.8 48.4L317.0 48.2L318.1 48.0L319.3 47.7L320.5 47.5L321.7 47.3L322.9 47.1L324.0 46.8L325.2 46.6L326.4 46.4L327.6 46.2L328.8 46.0L330.0 45.9L331.2 45.7L332.4 45.5L333.5 45.3L334.7 45.2L335.9 45.0L337.1 44.8L338.3 44.7L339.5 44.5L340.7 44.4L341.9 44.2L343.1 44.1L344.3 44.0L345.5 43.9L346.7 43.7L347.9 43.6L349.1 43.5L350.3 43.4L351.5 43.3L352.7 43.2L353.9 43.1L355.1 43.0L356.3 42.9L357.5 42.9L358.7 42.8L359.9 42.7L361.1 42.7L362.3 42.6L363.5 42.5L364.7 42.5L365.9 42.4L367.1 42.4L368.3 42.4L369.5 42.3L370.7 42.3L371.9 42.3L373.1 42.2L374.3 42.2L375.5 42.2L376.7 42.2L377.9 42.2L379.1 42.2L380.3 42.2L381.5 42.2L382.7 42.2L383.9 42.2L385.1 42.2L386.3 42.2L387.5 42.2L388.7 42.3L389.9 42.3L391.1 42.3L392.3 42.4L393.5 42.4L394.7 42.5L395.9 42.5L397.1 42.6L398.3 42.6L399.5 42.7L400.7 42.8L401.9 42.8L403.1 42.9L404.3 43.0L405.5 43.1L406.7 43.1L407.9 43.2L409.1 43.3L410.3 43.4L411.5 43.5L412.7 43.6L413.9 43.7L415.1 43.8L416.3 44.0L417.5 44.1L418.7 44.2L419.9 44.3L421.1 44.5L422.3 44.6L423.5 44.8L424.7 44.9L425.9 45.1L427.1 45.2L428.3 45.4L429.5 45.5L430.7 45.7L431.8 45.9L433.0 46.0L434.2 46.2L435.4 46.4L436.6 46.6L437.8 46.8L439.0 47.0L440.2 47.2L441.3 47.4L442.5 47.6L443.7 47.8L444.9 48.0L446.1 48.3L447.3 48.5L448.4 48.7L449.6 49.0L450.8 49.2L452.0 49.5L453.1 49.7L454.3 50.0L455.5 50.2L456.7 50.5L457.8 50.8L459.0 51.0L460.2 51.3L461.3 51.6L462.5 51.9L463.7 52.2L464.8 52.5L466.0 52.8L467.2 53.1L468.3 53.5L469.5 53.8L470.6 54.1L471.8 54.5L472.9 54.8L474.1 55.2L475.2 55.6L476.4 55.9L477.5 56.3L478.6 56.7L479.8 57.1L480.9 57.5L482.0 57.9L483.2 58.3L484.3 58.7L485.4 59.2L486.5 59.6L487.7 60.1L488.8 60.5L489.9 61.0L491.0 61.5L492.1 61.9L493.2 62.4L494.3 62.9L495.4 63.4L496.5 64.0L497.5 64.5L498.6 65.0L499.7 65.6L500.8 66.1L501.8 66.7L502.9 67.2L504.0 67.8L505.0 68.4L506.1 69.0L507.1 69.6L508.1 70.2L509.2 70.8L510.2 71.4L511.2 72.0L512.2 72.7L513.3 73.3L514.3 74.0L515.3 74.6L516.3 75.3L517.3 76.0L518.2 76.7L519.2 77.4L520.2 78.1L521.2 78.8L522.1 79.5L523.1 80.2L524.1 81.0L525.0 81.7L525.9 82.5L526.9 83.2L527.8 84.0L528.7 84.7L529.6 85.5L530.5 86.3L531.5 87.1L532.3 87.9L533.2 88.7L534.1 89.5L535.0 90.4L535.9 91.2L536.7 92.0L537.6 92.9L538.5 93.7L539.3 94.6L540.2 95.4L541.0 96.3L541.8 97.1L542.6 98.0L543.5 98.9L544.3 99.8L545.1 100.7L545.9 101.6L546.7 102.5L547.5 103.4L548.3 104.3L549.0 105.2L549.8 106.1L550.6 107.0L551.4 108.0L552.1 108.9L552.9 109.8L553.6 110.8L554.4 111.7L555.1 112.7L555.8 113.6L556.6 114.6L557.3 115.5L558.0 116.5L558.7 117.5L559.4 118.4L560.2 119.4L560.9 120.4L561.6 121.4L562.2 122.3L562.9 123.3L563.6 124.3L564.3 125.3L565.0 126.3L565.6 127.3L566.3 128.3L567.0 129.3L567.6 130.3L568.3 131.3L568.9 132.3L569.6 133.4L570.2 134.4L570.8 135.4L571.5 136.4L572.1 137.5L572.7 138.5L573.3 139.5L573.9 140.6L574.5 141.6L575.2 142.6L575.8 143.7L576.3 144.7L576.9 145.8L577.5 146.8L578.1 147.9L578.7 148.9L579.2 150.0L579.8 151.1L580.4 152.1L580.9 153.2L581.5 154.2L582.0 155.3L582.6 156.4L583.1 157.5L583.7 158.5L584.2 159.6L584.7 160.7L585.2 161.8L585.8 162.9L586.3 164.0L586.8 165.0L587.3 166.1L587.8 167.2L588.3 168.3L588.8 169.4L589.3 170.5L589.8 171.6L590.3 172.7L590.7 173.8L591.2 174.9L591.7 176.0L592.1 177.1L592.6 178.3L593.1 179.4L593.5 180.5L594.0 181.6L594.4 182.7L594.8 183.8L595.3 185.0L595.7 186.1L596.1 187.2L596.6 188.3L597.0 189.5L597.4 190.6L597.8 191.7L598.2 192.8L598.6 194.0L599.0 195.1L599.4 196.2L599.8 197.4L600.2 198.5L600.6 199.7L601.0 200.8L601.3 201.9L601.7 203.1L602.1 204.2L602.4 205.4L602.8 206.5L603.2 207.7L603.5 208.8L603.9 210.0L604.2 211.1L604.5 212.3L604.9 213.4L605.2 214.6L605.5 215.7L605.9 216.9L606.2 218.1L606.5 219.2L606.8 220.4L607.1 221.5L607.5 222.7L607.8 223.9L608.1 225.0L608.4 226.2L608.7 227.4L608.9 228.5L609.2 229.7L609.5 230.9L609.8 232.0L610.1 233.2L610.4 234.4L610.6 235.5L610.9 236.7L611.2 237.9L611.5 239.1L611.7 240.2L612.0 241.4L612.2 242.6L612.5 243.8L612.8 244.9L613.0 246.1L613.3 247.3L613.5 248.5L613.8 249.6L614.0 250.8L614.3 252.0L614.5 253.2L614.8 254.3L615.0 255.5L615.3 256.7L615.5 257.9L615.8 259.1L616.0 260.2L616.2 261.4L616.5 262.6L616.7 263.8L617.0 264.9L617.2 266.1L617.4 267.3L617.7 268.5L617.9 269.7L618.2 270.8L618.4 272.0L618.6 273.2L618.9 274.4L619.1 275.6L619.4 276.7L619.6 277.9L619.8 279.1L620.1 280.3L620.3 281.4L620.6 282.6L620.8 283.8" stroke="#FF0000" stroke-width="3.2" fill="none" stroke-linecap="round" stroke-linejoin="round" stroke-dasharray="6.4 5.9" stroke-dashoffset="0"/>
<path d="M170.2 287.6L170.2 286.4L170.2 285.2L170.2 284.0L170.2 282.8L170.2 281.6L170.2 280.4L170.3 279.2L170.3 278.0L170.3 276.8L170.4 275.6L170.4 274.4L170.5 273.2L170.5 271.9L170.6 270.7L170.7 269.5L170.7 268.3L170.8 267.1L170.9 265.9L171.0 264.7L171.1 263.5L171.2 262.3L171.3 261.1L171.4 259.9L171.5 258.7L171.6 257.5L171.8 256.3L171.9 255.1L172.0 253.9L172.2 252.8L172.3 251.6L172.5 250.4L172.7 249.2L172.8 248.0L173.0 246.8L173.2 245.6L173.4 244.4L173.6 243.2L173.8 242.0L174.0 240.8L174.2 239.7L174.4 238.5L174.6 237.3L174.9 236.1L175.1 234.9L175.3 233.7L175.6 232.6L175.8 231.4L176.1 230.2L176.4 229.0L176.6 227.9L176.9 226.7L177.2 225.5L177.5 224.4L177.8 223.2L178.1 222.0L178.4 220.9L178.7 219.7L179.1 218.5L179.4 217.4L179.7 216.2L180.1 215.1L180.4 213.9L180.8 212.8L181.2 211.6L181.5 210.5L181.9 209.3L182.3 208.2L182.7 207.1L183.1 205.9L183.5 204.8L183.9 203.7L184.3 202.5L184.8 201.4L185.2 200.3L185.6 199.2L186.1 198.0L186.5 196.9L187.0 195.8L187.5 194.7L187.9 193.6L188.4 192.5L188.9 191.4L189.4 190.3L189.9 189.2L190.4 188.1L190.9 187.0L191.5 185.9L192.0 184.8L192.5 183.8L193.1 182.7L193.6 181.6L194.2 180.6L194.7 179.5L195.3 178.4L195.9 177.4L196.5 176.3L197.1 175.3L197.6 174.2L198.2 173.2L198.9 172.1L199.5 171.1L200.1 170.1L200.7 169.0L201.3 168.0L202.0 167.0L202.6 166.0L203.3 164.9L203.9 163.9L204.6 162.9L205.2 161.9L205.9 160.9L206.6 159.9L207.2 158.9L207.9 157.9L208.6 156.9L209.3 156.0L210.0 155.0L210.7 154.0L211.4 153.0L212.1 152.0L212.8 151.1L213.6 150.1L214.3 149.1L215.0 148.2L215.7 147.2L216.5 146.3L217.3 145.4L218.0 144.4L218.8 143.5L219.7 142.7L220.5 141.8L221.3 140.9L222.2 140.1L223.1 139.3L223.9 138.4L224.8 137.6L225.7 136.8L226.6 136.0L227.6 135.2L228.5 134.5L229.4 133.7L230.4 133.0L231.3 132.2L232.2 131.5L233.2 130.7L234.1 130.0L235.1 129.2L236.1 128.5L237.0 127.8L238.0 127.1L238.9 126.3L239.9 125.6L240.9 124.9L241.8 124.2L242.8 123.5L243.8 122.8L244.8 122.1L245.8 121.4L246.8 120.7L247.7 120.0L248.8 119.3L249.8 118.7L250.8 118.0L251.8 117.4L252.8 116.8L253.9 116.2L254.9 115.5L255.9 115.0L257.0 114.4L258.1 113.8L259.1 113.3L260.2 112.7L261.3 112.2L262.4 111.7L263.5 111.3L264.6 110.8L265.8 110.4L266.9 110.0L268.0 109.6L269.2 109.2L270.3 108.9L271.5 108.5L272.7 108.3L273.8 108.0L275.0 107.7L276.2 107.5L277.4 107.3L278.6 107.1L279.8 106.9L281.0 106.8L282.2 106.7L283.4 106.5L284.6 106.4L285.8 106.4L287.0 106.3L288.2 106.2L289.4 106.2L290.6 106.2L291.8 106.1L293.0 106.1L294.2 106.1L295.4 106.1L296.6 106.1L297.8 106.2L299.0 106.2L300.2 106.2L301.4 106.3L302.6 106.3L303.8 106.4L305.0 106.4L306.2 106.5L307.4 106.6L308.6 106.6L309.8 106.7L311.0 106.8L312.2 106.9L313.4 106.9L314.6 107.0L315.8 107.1L317.0 107.2L318.2 107.3L319.4 107.4L320.6 107.5L321.8 107.6L323.0 107.7L324.2 107.8L325.4 107.9L326.6 108.0L327.8 108.1L329.0 108.2L330.2 108.3L331.4 108.4L332.6 108.6L333.8 108.7L335.0 108.8L336.2 109.0L337.4 109.1L338.6 109.2L339.8 109.4L341.0 109.5L342.2 109.6L343.4 109.8L344.6 109.9L345.8 110.1L347.0 110.2L348.2 110.4L349.4 110.5L350.6 110.7L351.8 110.9L353.0 111.0L354.2 111.2L355.3 111.4L356.5 111.5L357.7 111.7L358.9 111.8L360.1 112.0L361.3 112.2L362.5 112.3L363.7 112.5L364.9 112.6L366.1 112.7L367.3 112.9L368.5 113.0L369.7 113.1L370.9 113.2L372.1 113.3L373.3 113.4L374.5 113.5L375.7 113.6L376.9 113.6L378.1 113.7L379.3 113.7L380.5 113.8L381.7 113.8L382.9 113.8L384.1 113.8L385.3 113.8L386.5 113.8L387.7 113.8L388.9 113.8L390.1 113.8L391.4 113.7L392.6 113.7L393.8 113.7L395.0 113.6L396.2 113.6L397.4 113.5L398.6 113.5L399.8 113.4L401.0 113.3L402.2 113.3L403.4 113.2L404.6 113.1L405.8 113.1L407.0 113.0L408.2 112.9L409.4 112.9L410.6 112.8L411.8 112.7L413.0 112.7L414.2 112.6L415.4 112.6L416.6 112.5L417.8 112.4L419.0 112.4L420.2 112.3L421.4 112.3L422.6 112.3L423.8 112.2L425.0 112.2L426.2 112.2L427.4 112.2L428.7 112.1L429.9 112.1L431.1 112.1L432.3 112.2L433.5 112.2L434.7 112.2L435.9 112.2L437.1 112.3L438.3 112.4L439.5 112.4L440.7 112.5L441.9 112.6L443.1 112.7L444.3 112.8L445.5 113.0L446.7 113.1L447.9 113.3L449.1 113.4L450.3 113.6L451.4 113.8L452.6 114.1L453.8 114.3L455.0 114.6L456.2 114.8L457.3 115.1L458.5 115.4L459.6 115.8L460.8 116.1L461.9 116.5L463.1 116.9L464.2 117.3L465.4 117.7L466.5 118.1L467.6 118.6L468.7 119.1L469.8 119.6L470.9 120.1L471.9 120.7L473.0 121.2L474.1 121.8L475.1 122.4L476.1 123.0L477.2 123.6L478.2 124.3L479.2 124.9L480.2 125.6L481.2 126.2L482.2 126.9L483.2 127.6L484.2 128.3L485.2 129.0L486.2 129.7L487.2 130.4L488.1 131.1L489.1 131.8L490.1 132.5L491.0 133.2L492.0 133.9L493.0 134.7L493.9 135.4L494.9 136.1L495.8 136.9L496.8 137.6L497.7 138.4L498.7 139.1L499.6 139.9L500.5 140.6L501.4 141.4L502.4 142.2L503.3 143.0L504.2 143.8L505.1 144.6L505.9 145.4L506.8 146.3L507.7 147.1L508.5 147.9L509.4 148.8L510.2 149.7L511.0 150.6L511.8 151.4L512.6 152.3L513.4 153.3L514.2 154.2L514.9 155.1L515.7 156.1L516.4 157.0L517.2 158.0L517.9 158.9L518.6 159.9L519.3 160.9L519.9 161.9L520.6 162.9L521.3 163.9L521.9 164.9L522.5 166.0L523.2 167.0L523.8 168.0L524.4 169.1L525.0 170.1L525.6 171.2L526.1 172.2L526.7 173.3L527.3 174.4L527.8 175.4L528.3 176.5L528.9 177.6L529.4 178.7L529.9 179.8L530.4 180.9L530.9 182.0L531.4 183.1L531.8 184.2L532.3 185.3L532.8 186.4L533.2 187.5L533.7 188.6L534.1 189.8L534.5 190.9L535.0 192.0L535.4 193.2L535.8 194.3L536.2 195.4L536.6 196.6L537.0 197.7L537.4 198.8L537.7 200.0L538.1 201.1L538.5 202.3L538.9 203.4L539.2 204.6L539.6 205.7L539.9 206.9L540.3 208.0L540.6 209.2L540.9 210.3L541.3 211.5L541.6 212.7L541.9 213.8L542.2 215.0L542.5 216.1L542.8 217.3L543.1 218.5L543.4 219.6L543.7 220.8L544.0 222.0L544.3 223.1L544.6 224.3L544.9 225.5L545.1 226.7L545.4 227.8L545.7 229.0L545.9 230.2L546.2 231.4L546.4 232.5L546.7 233.7L546.9 234.9L547.1 236.1L547.4 237.3L547.6 238.5L547.8 239.6L548.1 240.8L548.3 242.0L548.5 243.2L548.7 244.4L548.9 245.6L549.1 246.7L549.3 247.9L549.5 249.1L549.7 250.3L549.9 251.5L550.1 252.7L550.3 253.9L550.5 255.1L550.7 256.3L550.9 257.4L551.1 258.6L551.2 259.8L551.4 261.0L551.6 262.2L551.7 263.4L551.9 264.6L552.1 265.8L552.2 267.0L552.4 268.2L552.6 269.4L552.7 270.6L552.9 271.8L553.0 273.0L553.2 274.1L553.3 275.3L553.5 276.5L553.6 277.7L553.8 278.9L553.9 280.1L554.0 281.3L554.2 282.5L554.3 283.7L554.5 284.9L554.6 286.1L554.7 287.3L554.9 288.5L555.0 289.7" stroke="#FF0000" stroke-width="3.2" fill="none" stroke-linecap="round" stroke-linejoin="round" stroke-dasharray="6.4 5.9" stroke-dashoffset="0"/>
<path d="M179.3 289.7L179.4 288.5L179.5 287.3L179.6 286.1L179.7 284.9L179.8 283.7L179.9 282.5L180.0 281.3L180.1 280.1L180.2 278.9L180.3 277.7L180.5 276.5L180.6 275.3L180.7 274.1L180.8 272.9L180.9 271.7L181.1 270.5L181.2 269.3L181.3 268.1L181.5 266.9L181.6 265.7L181.8 264.5L181.9 263.3L182.0 262.1L182.2 260.9L182.4 259.7L182.5 258.6L182.7 257.4L182.8 256.2L183.0 255.0L183.2 253.8L183.4 252.6L183.5 251.4L183.7 250.2L183.9 249.0L184.1 247.8L184.3 246.6L184.5 245.5L184.7 244.3L184.9 243.1L185.1 241.9L185.3 240.7L185.6 239.5L185.8 238.3L186.0 237.2L186.3 236.0L186.5 234.8L186.8 233.6L187.0 232.4L187.3 231.3L187.5 230.1L187.8 228.9L188.1 227.7L188.4 226.6L188.6 225.4L188.9 224.2L189.2 223.1L189.5 221.9L189.8 220.7L190.1 219.6L190.5 218.4L190.8 217.3L191.1 216.1L191.5 214.9L191.8 213.8L192.2 212.6L192.5 211.5L192.9 210.3L193.3 209.2L193.6 208.1L194.0 206.9L194.4 205.8L194.8 204.6L195.2 203.5L195.6 202.4L196.1 201.2L196.5 200.1L196.9 199.0L197.4 197.9L197.8 196.8L198.3 195.6L198.7 194.5L199.2 193.4L199.7 192.3L200.2 191.2L200.7 190.1L201.2 189.0L201.7 187.9L202.2 186.9L202.8 185.8L203.3 184.7L203.8 183.6L204.4 182.6L205.0 181.5L205.5 180.4L206.1 179.4L206.7 178.3L207.3 177.3L207.9 176.2L208.5 175.2L209.2 174.2L209.8 173.2L210.4 172.1L211.1 171.1L211.8 170.1L212.4 169.1L213.1 168.1L213.8 167.1L214.5 166.2L215.2 165.2L215.9 164.2L216.6 163.3L217.4 162.3L218.1 161.3L218.9 160.4L219.6 159.5L220.4 158.5L221.2 157.6L221.9 156.7L222.7 155.8L223.5 154.9L224.4 154.0L225.2 153.1L226.0 152.3L226.8 151.4L227.7 150.5L228.6 149.7L229.4 148.9L230.3 148.0L231.2 147.2L232.1 146.4L233.0 145.6L233.9 144.8L234.8 144.0L235.7 143.3L236.7 142.5L237.6 141.8L238.6 141.0L239.5 140.3L240.5 139.6L241.5 138.9L242.5 138.2L243.5 137.6L244.5 136.9L245.5 136.3L246.5 135.6L247.6 135.0L248.6 134.4L249.7 133.8L250.7 133.2L251.8 132.7L252.9 132.1L253.9 131.6L255.0 131.1L256.1 130.6L257.2 130.1L258.4 129.7L259.5 129.2L260.6 128.8L261.7 128.4L262.9 128.0L264.0 127.6L265.2 127.3L266.3 126.9L267.5 126.6L268.6 126.3L269.8 126.0L271.0 125.8L272.2 125.5L273.4 125.3L274.5 125.1L275.7 124.9L276.9 124.8L278.1 124.6L279.3 124.5L280.5 124.4L281.7 124.3L282.9 124.2L284.1 124.2L285.3 124.2L286.5 124.2L287.7 124.2L288.9 124.2L290.2 124.3L291.4 124.3L292.6 124.4L293.8 124.5L294.9 124.7L296.1 124.8L297.3 125.0L298.5 125.2L299.7 125.4L300.9 125.6L302.1 125.9L303.2 126.2L304.4 126.5L305.6 126.8L306.7 127.1L307.9 127.5L309.0 127.9L310.2 128.3L311.3 128.7L312.4 129.1L313.5 129.6L314.6 130.1L315.7 130.6L316.8 131.1L317.9 131.7L318.9 132.2L320.0 132.8L321.0 133.4L322.1 134.0L323.1 134.6L324.1 135.3L325.1 135.9L326.1 136.6L327.1 137.3L328.1 138.0L329.1 138.7L330.0 139.4L331.0 140.1L332.0 140.9L332.9 141.6L333.8 142.4L334.8 143.2L335.7 144.0L336.6 144.7L337.5 145.5L338.4 146.3L339.3 147.2L340.1 148.0L341.0 148.8L341.9 149.6L342.7 150.5L343.6 151.3L344.4 152.2L345.3 153.1L346.1 153.9L346.9 154.8L347.7 155.7L348.5 156.6L349.3 157.5L350.1 158.4L350.9 159.3L351.7 160.3L352.4 161.2L353.2 162.1L354.0 163.1L354.7 164.0L355.5 165.0L356.2 165.9L356.9 166.9L357.6 167.8L358.3 168.8L359.0 169.8L359.7 170.8L360.4 171.8L361.1 172.8L361.8 173.7L362.5 174.7L363.1 175.8L363.8 176.8L364.4 177.8L365.1 178.8L365.7 179.8L366.4 180.8L367.0 181.9L367.6 182.9L368.2 183.9L368.8 185.0L369.4 186.0L370.0 187.1L370.6 188.1L371.2 189.2L371.8 190.2L372.4 191.3L373.0 192.3L373.5 193.4L374.1 194.4L374.7 195.5L375.3 196.5L376.0 197.5L376.6 198.5L377.3 199.5L378.0 200.5L378.7 201.5L379.5 202.4L380.3 203.3L381.1 204.2L382.0 205.0L383.0 205.7L384.1 205.9L385.3 205.6L386.4 205.1L387.4 204.4L388.3 203.6L389.2 202.8L389.9 201.9L390.7 200.9L391.4 200.0L392.2 199.0L392.9 198.0L393.6 197.1L394.3 196.1L395.0 195.1L395.7 194.1L396.4 193.1L397.0 192.1L397.7 191.1L398.3 190.1L399.0 189.1L399.7 188.1L400.3 187.1L401.1 186.1L401.8 185.2L402.5 184.2L403.2 183.2L403.9 182.2L404.5 181.2L405.2 180.2L405.9 179.3L406.6 178.3L407.3 177.3L408.0 176.3L408.7 175.3L409.4 174.3L410.0 173.3L410.7 172.3L411.4 171.3L412.1 170.3L412.8 169.3L413.4 168.3L414.1 167.3L414.8 166.3L415.5 165.4L416.2 164.4L416.8 163.4L417.5 162.4L418.2 161.4L418.9 160.4L419.6 159.4L420.3 158.4L421.0 157.5L421.7 156.5L422.4 155.5L423.1 154.5L423.9 153.6L424.6 152.6L425.3 151.7L426.1 150.7L426.9 149.8L427.6 148.9L428.4 148.0L429.2 147.1L430.0 146.2L430.9 145.3L431.7 144.5L432.6 143.6L433.5 142.8L434.4 142.0L435.3 141.2L436.2 140.5L437.2 139.7L438.1 139.0L439.1 138.3L440.1 137.6L441.1 137.0L442.2 136.4L443.2 135.8L444.3 135.2L445.4 134.7L446.5 134.2L447.6 133.7L448.7 133.3L449.8 132.9L451.0 132.6L452.1 132.3L453.3 132.0L454.5 131.7L455.7 131.6L456.9 131.4L458.1 131.3L459.3 131.3L460.5 131.3L461.7 131.4L462.9 131.5L464.1 131.7L465.3 131.9L466.4 132.2L467.6 132.5L468.8 132.9L469.9 133.3L471.0 133.7L472.1 134.2L473.2 134.7L474.3 135.2L475.3 135.8L476.4 136.4L477.4 137.0L478.5 137.6L479.5 138.3L480.5 139.0L481.4 139.7L482.4 140.4L483.4 141.1L484.3 141.8L485.3 142.6L486.2 143.4L487.1 144.2L488.0 145.0L488.9 145.8L489.8 146.6L490.6 147.4L491.5 148.3L492.3 149.1L493.2 150.0L494.0 150.9L494.8 151.8L495.6 152.7L496.4 153.6L497.1 154.5L497.9 155.5L498.6 156.4L499.4 157.4L500.1 158.3L500.8 159.3L501.5 160.3L502.2 161.3L502.9 162.2L503.6 163.2L504.3 164.3L504.9 165.3L505.6 166.3L506.2 167.3L506.8 168.3L507.4 169.4L508.0 170.4L508.6 171.4L509.2 172.5L509.8 173.5L510.4 174.6L511.0 175.7L511.5 176.7L512.1 177.8L512.6 178.9L513.2 180.0L513.7 181.0L514.2 182.1L514.8 183.2L515.3 184.3L515.8 185.4L516.3 186.5L516.8 187.6L517.3 188.7L517.8 189.8L518.3 190.9L518.7 192.0L519.2 193.1L519.7 194.2L520.1 195.3L520.6 196.4L521.0 197.5L521.5 198.7L521.9 199.8L522.4 200.9L522.8 202.0L523.2 203.1L523.7 204.3L524.1 205.4L524.5 206.5L524.9 207.7L525.3 208.8L525.7 209.9L526.1 211.1L526.5 212.2L526.9 213.3L527.3 214.5L527.7 215.6L528.0 216.8L528.4 217.9L528.8 219.1L529.1 220.2L529.5 221.4L529.8 222.5L530.2 223.7L530.5 224.8L530.9 226.0L531.2 227.1L531.5 228.3L531.8 229.5L532.2 230.6L532.5 231.8L532.8 233.0L533.1 234.1L533.4 235.3L533.7 236.4L534.0 237.6L534.3 238.8L534.6 240.0L534.9 241.1L535.1 242.3L535.4 243.5L535.7 244.6L536.0 245.8L536.2 247.0L536.5 248.2L536.7 249.3L537.0 250.5L537.2 251.7L537.5 252.9L537.7 254.1L538.0 255.2L538.2 256.4L538.4 257.6L538.7 258.8L538.9 260.0L539.1 261.1L539.3 262.3L539.6 263.5L539.8 264.7L540.0 265.9L540.2 267.1L540.4 268.3L540.6 269.4L540.8 270.6L541.0 271.8L541.2 273.0L541.4 274.2L541.6 275.4L541.7 276.6L541.9 277.8L542.1 279.0L542.3 280.2L542.5 281.3L542.6 282.5L542.8 283.7L543.0 284.9L543.1 286.1L543.3 287.3L543.4 288.5L543.6 289.7" stroke="#FF0000" stroke-width="3.2" fill="none" stroke-linecap="round" stroke-linejoin="round" stroke-dasharray="6.4 5.9" stroke-dashoffset="0"/>
<path d="M204.8 289.7L204.8 288.5L204.8 287.3L204.8 286.1L204.8 284.9L204.9 283.7L204.9 282.5L205.0 281.3L205.0 280.1L205.1 278.9L205.2 277.7L205.3 276.5L205.4 275.3L205.5 274.0L205.6 272.8L205.7 271.6L205.8 270.5L205.9 269.3L206.1 268.1L206.2 266.9L206.4 265.7L206.5 264.5L206.7 263.3L206.9 262.1L207.1 260.9L207.3 259.7L207.5 258.5L207.7 257.3L207.9 256.1L208.1 255.0L208.4 253.8L208.6 252.6L208.9 251.4L209.1 250.2L209.4 249.1L209.6 247.9L209.9 246.7L210.2 245.5L210.5 244.4L210.8 243.2L211.1 242.0L211.4 240.9L211.8 239.7L212.1 238.6L212.4 237.4L212.8 236.2L213.1 235.1L213.5 233.9L213.8 232.8L214.2 231.6L214.6 230.5L215.0 229.4L215.4 228.2L215.8 227.1L216.2 225.9L216.6 224.8L217.0 223.7L217.4 222.6L217.9 221.4L218.3 220.3L218.7 219.2L219.2 218.1L219.6 217.0L220.1 215.8L220.6 214.7L221.1 213.6L221.5 212.5L222.0 211.4L222.5 210.3L223.0 209.2L223.5 208.1L224.1 207.0L224.6 206.0L225.1 204.9L225.7 203.8L226.2 202.7L226.8 201.7L227.3 200.6L227.9 199.5L228.5 198.5L229.1 197.4L229.7 196.4L230.3 195.4L230.9 194.3L231.6 193.3L232.2 192.3L232.9 191.3L233.5 190.3L234.2 189.3L234.9 188.3L235.6 187.3L236.3 186.3L237.0 185.4L237.8 184.4L238.5 183.4L239.3 182.5L240.0 181.6L240.8 180.7L241.6 179.8L242.4 178.9L243.2 178.0L244.0 177.1L244.9 176.2L245.7 175.4L246.6 174.5L247.5 173.7L248.3 172.9L249.2 172.1L250.1 171.3L251.1 170.5L252.0 169.7L252.9 169.0L253.9 168.2L254.8 167.5L255.8 166.8L256.8 166.1L257.8 165.4L258.8 164.7L259.8 164.1L260.8 163.5L261.9 162.8L262.9 162.2L264.0 161.6L265.0 161.1L266.1 160.5L267.2 160.0L268.3 159.5L269.4 159.0L270.5 158.5L271.6 158.1L272.7 157.6L273.9 157.2L275.0 156.8L276.2 156.5L277.3 156.1L278.5 155.8L279.6 155.5L280.8 155.3L282.0 155.1L283.2 154.8L284.4 154.7L285.6 154.5L286.8 154.4L288.0 154.3L289.2 154.2L290.4 154.2L291.6 154.2L292.8 154.2L294.0 154.3L295.2 154.4L296.4 154.5L297.6 154.7L298.8 154.9L300.0 155.1L301.2 155.4L302.3 155.6L303.5 155.9L304.7 156.3L305.8 156.6L306.9 157.0L308.1 157.4L309.2 157.8L310.3 158.2L311.4 158.7L312.6 159.2L313.6 159.7L314.7 160.2L315.8 160.8L316.9 161.3L317.9 161.9L319.0 162.5L320.0 163.1L321.0 163.8L322.0 164.4L323.0 165.1L324.0 165.8L325.0 166.5L326.0 167.2L326.9 167.9L327.9 168.7L328.8 169.5L329.7 170.2L330.6 171.0L331.5 171.8L332.4 172.7L333.3 173.5L334.2 174.3L335.0 175.2L335.8 176.0L336.7 176.9L337.5 177.8L338.3 178.7L339.1 179.6L339.8 180.6L340.6 181.5L341.3 182.4L342.1 183.4L342.8 184.4L343.5 185.3L344.2 186.3L344.9 187.3L345.6 188.3L346.3 189.3L346.9 190.3L347.6 191.3L348.2 192.3L348.8 193.4L349.5 194.4L350.1 195.4L350.7 196.5L351.3 197.5L351.9 198.6L352.4 199.6L353.0 200.7L353.6 201.8L354.1 202.8L354.7 203.9L355.2 205.0L355.7 206.1L356.3 207.2L356.8 208.2L357.3 209.3L357.8 210.4L358.3 211.5L358.8 212.6L359.3 213.7L359.8 214.8L360.3 215.9L360.8 217.0L361.2 218.1L361.7 219.3L362.2 220.4L362.6 221.5L363.1 222.6L363.5 223.7L364.0 224.8L364.4 226.0L364.8 227.1L365.2 228.2L365.7 229.4L366.1 230.5L366.5 231.6L366.9 232.8L367.3 233.9L367.6 235.0L368.0 236.2L368.4 237.3L368.8 238.5L369.1 239.6L369.5 240.8L369.8 241.9L370.2 243.1L370.5 244.2L370.8 245.4L371.2 246.6L371.5 247.7L371.8 248.9L372.1 250.1L372.4 251.2L372.7 252.4L373.0 253.6L373.2 254.7L373.5 255.9L373.8 257.1L374.0 258.3L374.3 259.5L374.5 260.6L374.8 261.8L375.0 263.0L375.2 264.2L375.4 265.4L375.6 266.6L375.8 267.7L376.0 268.9L376.2 270.1L376.4 271.3L376.5 272.5L376.7 273.7L376.9 274.9L377.0 276.1L377.1 277.3L377.3 278.5L377.4 279.7L377.5 280.9L377.6 282.1L377.7 283.3L377.8 284.5" stroke="#FF0000" stroke-width="3.2" fill="none" stroke-linecap="round" stroke-linejoin="round" stroke-dasharray="6.4 5.9" stroke-dashoffset="0"/>
<path d="M389.5 288.0L389.5 286.8L389.6 285.6L389.6 284.4L389.7 283.2L389.7 282.0L389.8 280.8L389.9 279.5L390.0 278.3L390.1 277.1L390.3 275.9L390.4 274.7L390.6 273.5L390.7 272.3L390.9 271.1L391.1 269.9L391.3 268.8L391.5 267.6L391.7 266.4L392.0 265.2L392.2 264.0L392.5 262.8L392.7 261.6L393.0 260.5L393.3 259.3L393.6 258.1L393.9 257.0L394.3 255.8L394.6 254.6L395.0 253.5L395.4 252.3L395.7 251.2L396.1 250.0L396.5 248.9L397.0 247.8L397.4 246.6L397.8 245.5L398.3 244.4L398.8 243.3L399.2 242.2L399.7 241.1L400.2 240.0L400.8 238.9L401.3 237.8L401.9 236.7L402.4 235.7L403.0 234.6L403.6 233.5L404.2 232.5L404.8 231.4L405.4 230.4L406.0 229.4L406.7 228.4L407.4 227.4L408.0 226.4L408.7 225.4L409.4 224.4L410.2 223.4L410.9 222.4L411.6 221.5L412.4 220.6L413.2 219.6L414.0 218.7L414.8 217.8L415.6 217.0L416.5 216.1L417.3 215.2L418.2 214.4L419.1 213.6L420.0 212.8L420.9 212.0L421.9 211.3L422.9 210.5L423.8 209.9L424.9 209.2L425.9 208.6L426.9 208.0L428.0 207.4L429.1 206.9L430.2 206.4L431.3 206.0L432.5 205.6L433.6 205.2L434.8 204.9L436.0 204.6L437.1 204.3L438.3 204.1L439.5 203.9L440.7 203.8L441.9 203.7L443.1 203.6L444.4 203.6L445.6 203.6L446.8 203.7L448.0 203.8L449.2 203.9L450.4 204.1L451.6 204.4L452.7 204.6L453.9 205.0L455.1 205.3L456.2 205.7L457.3 206.1L458.5 206.6L459.6 207.0L460.7 207.6L461.7 208.1L462.8 208.7L463.8 209.3L464.9 209.9L465.9 210.6L466.9 211.3L467.9 212.0L468.8 212.7L469.8 213.5L470.7 214.2L471.6 215.0L472.5 215.9L473.4 216.7L474.2 217.6L475.0 218.4L475.9 219.3L476.7 220.2L477.4 221.2L478.2 222.1L478.9 223.1L479.6 224.0L480.3 225.0L481.0 226.0L481.7 227.1L482.3 228.1L482.9 229.1L483.5 230.2L484.1 231.2L484.6 232.3L485.2 233.4L485.7 234.5L486.2 235.6L486.6 236.7L487.1 237.8L487.5 239.0L487.9 240.1L488.2 241.3L488.6 242.4L488.9 243.6L489.2 244.8L489.5 246.0L489.7 247.1L490.0 248.3L490.2 249.5L490.4 250.7L490.6 251.9L490.7 253.1L490.9 254.3L491.0 255.5L491.2 256.7L491.3 257.9L491.4 259.1L491.5 260.3L491.6 261.5L491.7 262.7L491.8 263.9L491.9 265.1L491.9 266.3L492.0 267.5L492.1 268.8L492.1 270.0L492.2 271.2L492.3 272.4L492.4 273.6L492.4 274.8L492.5 276.0L492.6 277.2L492.7 278.4L492.8 279.6L493.0 280.8L493.1 282.0L493.2 283.2L493.4 284.4L493.5 285.6L493.7 286.8L493.9 288.0" stroke="#FF0000" stroke-width="3.2" fill="none" stroke-linecap="round" stroke-linejoin="round" stroke-dasharray="6.4 5.9" stroke-dashoffset="0"/>
<text x="40.6" y="313.1" text-anchor="middle">-20</text>
<text x="120.2" y="313.1" text-anchor="middle">-15</text>
<text x="199.8" y="313.1" text-anchor="middle">-10</text>
<text x="279.4" y="313.1" text-anchor="middle">-5</text>
<text x="359.0" y="313.1" text-anchor="middle">0</text>
<text x="438.6" y="313.1" text-anchor="middle">5</text>
<text x="518.2" y="313.1" text-anchor="middle">10</text>
<text x="597.8" y="313.1" text-anchor="middle">15</text>
<text x="677.4" y="313.1" text-anchor="middle">20</text>
<text x="28.4" y="294.5" text-anchor="end">0</text>
<text x="28.4" y="259.0" text-anchor="end">1</text>
<text x="28.4" y="223.6" text-anchor="end">2</text>
<text x="28.4" y="188.1" text-anchor="end">3</text>
<text x="28.4" y="152.7" text-anchor="end">4</text>
<text x="28.4" y="117.2" text-anchor="end">5</text>
<text x="28.4" y="81.7" text-anchor="end">6</text>
<text x="28.4" y="46.3" text-anchor="end">7</text>
<text x="28.4" y="10.8" text-anchor="end">8</text>
<g>
<line x1="57.3" y1="25.7" x2="96.6" y2="25.7" stroke="#00B050" stroke-width="2.6" stroke-linecap="round"/>
<line x1="57.3" y1="69.6" x2="96.6" y2="69.6" stroke="#FF0000" stroke-width="3.2" stroke-linecap="round" stroke-dasharray="6.4 5.9"/>
<text x="100.5" y="30.7" textLength="94.4" lengthAdjust="spacingAndGlyphs">Frost and Pook</text>
<text x="100.5" y="48.9" textLength="77.9" lengthAdjust="spacingAndGlyphs">Beachmarks</text>
<text x="100.5" y="74.7" textLength="72.2" lengthAdjust="spacingAndGlyphs">Experiment</text>
<text x="100.5" y="92.7" textLength="77.7" lengthAdjust="spacingAndGlyphs">Beachmarks</text>
</g>
<text x="375.5" y="335.8" text-anchor="middle" textLength="137.5" lengthAdjust="spacingAndGlyphs">Crack Length, <tspan font-style="italic">c</tspan> (mm)</text>
<text transform="translate(11.2,174.4) rotate(-90)" text-anchor="middle" textLength="132.3" lengthAdjust="spacingAndGlyphs">Crack Depth, <tspan font-style="italic">a</tspan> (mm)</text>
</svg>
</body></html>
